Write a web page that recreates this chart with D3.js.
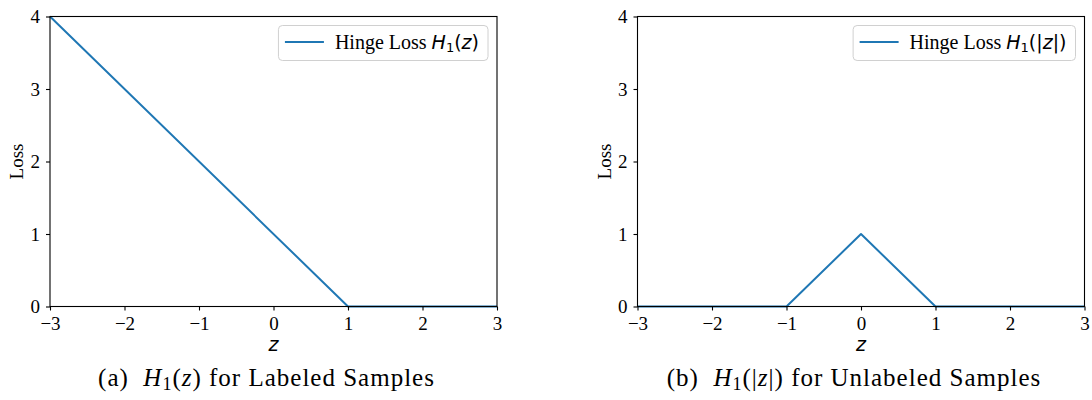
<!DOCTYPE html>
<html>
<head>
<meta charset="utf-8">
<script src="https://cdn.jsdelivr.net/npm/d3@7"></script>
<style>
    body { margin: 0; background: #fff; }
    svg { display: block; }
</style>
</head>
<body>
<svg id="chart" width="1092" height="400"></svg>
<script>
// tick values shared by both panels
var zTicks = [-3, -2, -1, 0, 1, 2, 3];
var lossTicks = [0, 1, 2, 3, 4];

// (a) hinge loss on labeled samples
var labeledZ = [-3, 1, 3];
var labeledLoss = [4, 0, 0];

// (b) hinge loss on |z| for unlabeled samples
var unlabeledZ = [-3, -1, 0, 1, 3];
var unlabeledLoss = [0, 0, 1, 0, 0];

var svg = d3.select("#chart");
var serif = "'Liberation Serif', 'Times New Roman', serif";
var sans = "'DejaVu Sans', sans-serif";
var blue = "#1f77b4";

var plotTop = 16.5, plotBottom = 306.5;

function drawPanel(left, right, xs, ys, legendMath, caption) {
    var x = d3.scaleLinear().domain([-3, 3]).range([left, right]);
    var y = d3.scaleLinear().domain([0, 4]).range([plotBottom, plotTop]);
    var g = svg.append("g");

    // data line
    var line = d3.line()
        .x(function (d) { return x(d[0]); })
        .y(function (d) { return y(d[1]); });
    g.append("path")
        .datum(d3.zip(xs, ys))
        .attr("d", line)
        .attr("fill", "none")
        .attr("stroke", blue)
        .attr("stroke-width", 2)
        .attr("stroke-linejoin", "round");

    // axes
    var xAxis = g.append("g")
        .attr("transform", "translate(0," + plotBottom + ")")
        .call(d3.axisBottom(x).tickValues(zTicks).tickSize(4).tickPadding(6)
            .tickFormat(function (d) { return d < 0 ? "\u2212" + Math.abs(d) : d; }));
    var yAxis = g.append("g")
        .attr("transform", "translate(" + left + ",0)")
        .call(d3.axisLeft(y).tickValues(lossTicks).tickSize(4).tickPadding(6).tickFormat(d3.format("d")));
    [xAxis, yAxis].forEach(function (a) {
        a.select(".domain").remove();
        a.selectAll("line").attr("stroke", "#000").attr("stroke-width", 1.1);
        a.selectAll("text").attr("font-family", serif).attr("font-size", 19).attr("fill", "#000");
    });

    // frame
    g.append("rect")
        .attr("x", left).attr("y", plotTop)
        .attr("width", right - left).attr("height", plotBottom - plotTop)
        .attr("fill", "none").attr("stroke", "#000").attr("stroke-width", 1.1);

    // axis labels
    g.append("text")
        .attr("x", (left + right) / 2).attr("y", 351)
        .attr("text-anchor", "middle")
        .attr("font-family", sans).attr("font-style", "italic").attr("font-size", 19)
        .text("z");
    g.append("text")
        .attr("transform", "translate(" + (left - 27) + "," + ((plotTop + plotBottom) / 2) + ") rotate(-90)")
        .attr("text-anchor", "middle")
        .attr("font-family", serif).attr("font-size", 19)
        .text("Loss");

    // legend
    var lg = g.append("g");
    var box = lg.append("rect");
    var lx = 0;
    lg.append("line")
        .attr("x1", lx).attr("x2", lx + 39).attr("y1", 42).attr("y2", 42)
        .attr("stroke", blue).attr("stroke-width", 2);
    var lt = lg.append("text")
        .attr("x", lx + 50).attr("y", 48.5)
        .attr("font-family", serif).attr("font-size", 20);
    lt.append("tspan").text("Hinge Loss ");
    lt.append("tspan").attr("font-family", sans).attr("font-style", "italic").attr("font-size", 19).text("H");
    lt.append("tspan").attr("font-family", sans).attr("font-size", 13).attr("dy", 3).text("1");
    legendMath.forEach(function (p, i) {
        var t = lt.append("tspan").attr("font-family", sans).attr("font-size", 19).text(p.s);
        if (i === 0) t.attr("dy", -3);
        if (p.it) t.attr("font-style", "italic");
    });
    var tb = lt.node().getBBox();
    var boxRight = tb.x + tb.width + 9;
    box.attr("x", lx - 6.5).attr("y", 25.5)
        .attr("width", boxRight - (lx - 6.5)).attr("height", 35)
        .attr("rx", 4)
        .attr("fill", "#fff").attr("fill-opacity", 0.8)
        .attr("stroke", "#d0d0d0").attr("stroke-width", 1);
    var shift = (right - 9) - boxRight;
    lg.attr("transform", "translate(" + shift + ",0)");

    // caption
    var c = g.append("text")
        .attr("x", (left + right) / 2 - 7).attr("y", 386)
        .attr("text-anchor", "middle")
        .attr("font-family", serif).attr("font-size", 25);
    caption.forEach(function (p) {
        var t = c.append("tspan").text(p.s);
        if (p.it) t.attr("font-style", "italic");
        if (p.sub) t.attr("font-size", 18).attr("dy", 4);
        if (p.up) t.attr("dy", -4);
    });
    return c;
}

var capA = drawPanel(50, 497, labeledZ, labeledLoss,
    [{s: "("}, {s: "z", it: true}, {s: ")"}],
    [{s: "(a)\u00a0\u00a0"}, {s: "H", it: true}, {s: "1", sub: true}, {s: "(", up: true},
     {s: "z", it: true}, {s: ")\u00a0for Labeled Samples"}]);
var capB = drawPanel(637.5, 1084.5, unlabeledZ, unlabeledLoss,
    [{s: "(|"}, {s: "z", it: true}, {s: "|)"}],
    [{s: "(b)\u00a0\u00a0"}, {s: "H", it: true}, {s: "1", sub: true}, {s: "(|", up: true},
     {s: "z", it: true}, {s: "|)\u00a0for Unlabeled Samples"}]);

// stretch the serif captions a little toward the width of the LaTeX ones
var wA = capA.node().getComputedTextLength();
var ls = Math.min(1, Math.max(0, (353 - wA) / 29));
capA.attr("letter-spacing", ls);
capB.attr("letter-spacing", ls);
</script>
</body>
</html>
